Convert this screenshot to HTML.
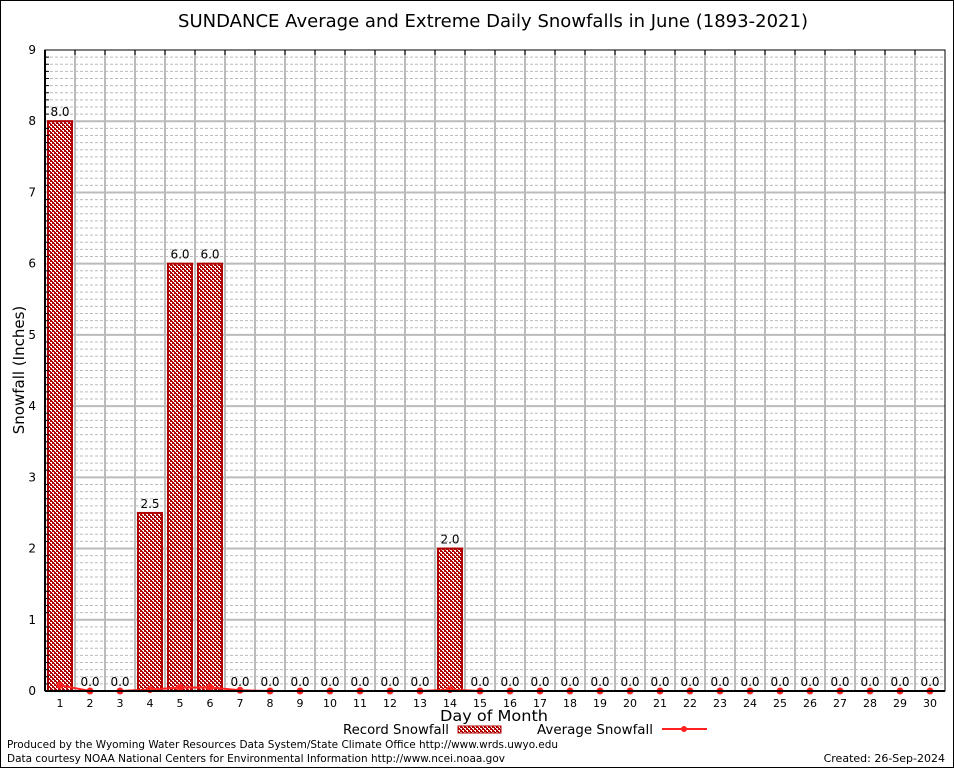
<!DOCTYPE html>
<html><head><meta charset="utf-8"><style>
body{margin:0;background:#fff;}
svg text{font-family:"DejaVu Sans","Liberation Sans",sans-serif;}
</style></head><body>
<svg id="c" width="954" height="768" xmlns="http://www.w3.org/2000/svg">
<defs>
<pattern id="hatch" width="4" height="4" patternUnits="userSpaceOnUse">
<rect width="4" height="4" fill="#b00000"/>
<rect width="2" height="1" fill="#fff"/><rect x="2" y="2" width="2" height="1" fill="#fff"/>
<rect x="1" y="1" width="1" height="1" fill="#fff"/><rect x="3" y="3" width="1" height="1" fill="#fff"/>
</pattern>
</defs>
<rect x="0.5" y="0.5" width="953" height="767" fill="#fff" stroke="#000"/>
<text x="178" y="27" textLength="630" lengthAdjust="spacingAndGlyphs" font-size="18">SUNDANCE Average and Extreme Daily Snowfalls in June (1893-2021)</text>
<g id="grid"></g><g id="bars"></g><g id="avg"></g><g id="axes"></g>
<text x="24" y="370" text-anchor="middle" font-size="15" transform="rotate(-90 24 370)">Snowfall (Inches)</text>
<text x="440" y="721" textLength="108" lengthAdjust="spacingAndGlyphs" font-size="15">Day of Month</text>
<g>
<text x="343" y="734" textLength="106" lengthAdjust="spacingAndGlyphs" font-size="13">Record Snowfall</text>
<rect x="458" y="726" width="43" height="7" fill="url(#hatch)" stroke="#b00000"/>
<text x="537" y="734" textLength="116" lengthAdjust="spacingAndGlyphs" font-size="13">Average Snowfall</text>
<line x1="662" y1="729" x2="707" y2="729" stroke="#ff2020" stroke-width="2"/>
<circle cx="684" cy="729" r="3" fill="#ff2020"/>
</g>
<text x="7" y="748" textLength="551" lengthAdjust="spacingAndGlyphs" font-size="11">Produced by the Wyoming Water Resources Data System/State Climate Office http://www.wrds.uwyo.edu</text>
<text x="7" y="762" textLength="498" lengthAdjust="spacingAndGlyphs" font-size="11">Data courtesy NOAA National Centers for Environmental Information http://www.ncei.noaa.gov</text>
<text x="945" y="762" font-size="11" text-anchor="end">Created:  26-Sep-2024</text>
</svg>
<script>
const days=[1,2,3,4,5,6,7,8,9,10,11,12,13,14,15,16,17,18,19,20,21,22,23,24,25,26,27,28,29,30];
const recordVals=[8.0,0,0,2.5,6.0,6.0,0,0,0,0,0,0,0,2.0,0,0,0,0,0,0,0,0,0,0,0,0,0,0,0,0];
const avgVals=[0.08,0,0,0.02,0.05,0.05,0.01,0,0,0,0,0,0,0.02,0,0,0,0,0,0,0,0,0,0,0,0,0,0,0,0];
const yTicks=[0,1,2,3,4,5,6,7,8,9];
const L=45,R=945,T=50,B=691,YMAX=9;
const xs=d=>L+(d-0.5)*(R-L)/days.length;
const ys=v=>B-v*(B-T)/YMAX;
const NS="http://www.w3.org/2000/svg";
function mk(tag,attrs,parent,txt){const e=document.createElementNS(NS,tag);for(const k in attrs)e.setAttribute(k,attrs[k]);if(txt!==undefined)e.textContent=txt;document.getElementById(parent).appendChild(e);return e;}
for(let i=1;i<YMAX*10;i++){if(i%10===0)continue;const y=ys(i/10);
const g=mk('line',{x1:L,x2:R,y1:y,y2:y,stroke:'#bbb','stroke-dasharray':'3,2','stroke-width':1},'grid');


const t=mk('line',{x1:L,x2:L+4,y1:y,y2:y,stroke:'#000'},'axes');

}
yTicks.forEach(v=>{const y=ys(v);
if(v>0&&v<YMAX){const g=mk('line',{x1:L,x2:R,y1:y,y2:y,stroke:'#bbb','stroke-width':2},'grid');

}
const t=mk('text',{x:L-9,y:y+4,'text-anchor':'end','font-size':12,'font-family':'Liberation Serif,serif'},'axes',String(v));

});
days.forEach((d,i)=>{const xb=L+(i+1)*(R-L)/days.length;
if(i<days.length-1){const g=mk('line',{x1:xb,x2:xb,y1:T,y2:B,stroke:'#bbb','stroke-width':2},'grid');


const tk=mk('line',{x1:xb,x2:xb,y1:T,y2:T+5,stroke:'#000'},'axes');

}
const t=mk('text',{x:xs(d),y:B+16,'text-anchor':'middle','font-size':11,'font-family':'Liberation Serif,serif'},'axes',String(d));

});
recordVals.forEach((v,i)=>{const x=xs(days[i]);
if(v>0){const r=mk('rect',{x:x-12,y:ys(v),width:24,height:B-ys(v),fill:'url(#hatch)',stroke:'#b00000','stroke-width':2},'bars');

}
const t=mk('text',{x:x,y:ys(v)-5,'text-anchor':'middle','font-size':12},'bars',v.toFixed(1));

});
const pl=mk('polyline',{points:avgVals.map((v,i)=>xs(days[i])+','+ys(v)).join(' '),fill:'none',stroke:'#ff2020','stroke-width':2},'avg');


avgVals.forEach((v,i)=>{const m=mk('circle',{cx:xs(days[i]),cy:ys(v),r:3.5,fill:'#ff2020'},'avg');

});
const fr=mk('rect',{x:L,y:T,width:R-L,height:B-T,fill:'none',stroke:'#000','stroke-width':1},'axes');


const ax=mk('line',{x1:L,x2:L,y1:T,y2:B,stroke:'#000','stroke-width':2},'axes');


const xa=mk('line',{x1:L,x2:R,y1:B,y2:B,stroke:'#000','stroke-width':2},'axes');


</script>
</body></html>
